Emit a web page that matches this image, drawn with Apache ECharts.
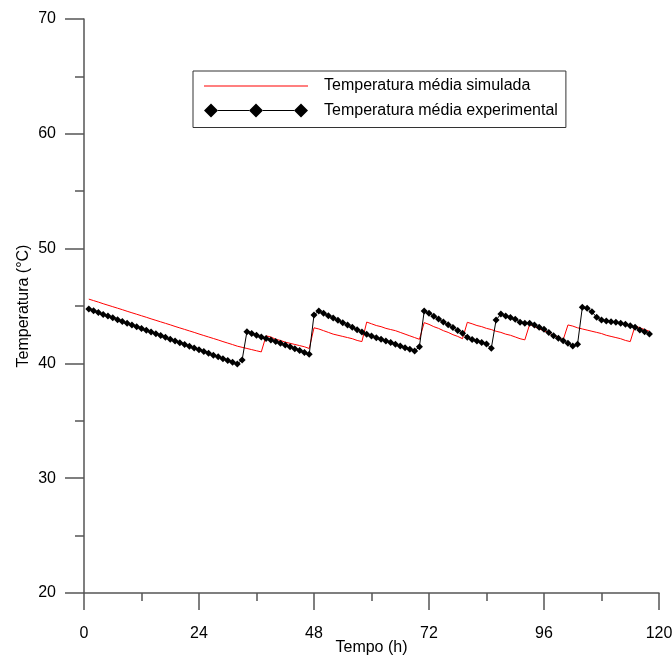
<!DOCTYPE html>
<html>
<head>
<meta charset="utf-8">
<script src="https://cdn.jsdelivr.net/npm/echarts@6/dist/echarts.min.js"></script>
<style>
html,body{margin:0;padding:0;background:#fff;overflow:hidden;}
#chart{width:672px;height:657px;}
</style>
</head>
<body>
<div id="chart"></div>
<script>
const hours = [1,2,3,4,5,6,7,8,9,10,11,12,13,14,15,16,17,18,19,20,21,22,23,24,25,26,27,28,29,30,
31,32,33,34,35,36,37,38,39,40,41,42,43,44,45,46,47,48,49,50,51,52,53,54,55,56,57,58,59,60,
61,62,63,64,65,66,67,68,69,70,71,72,73,74,75,76,77,78,79,80,81,82,83,84,85,86,87,88,89,90,
91,92,93,94,95,96,97,98,99,100,101,102,103,104,105,106,107,108,109,110,111,112,113,114,115,116,117,118];

const simulated = [
45.60,45.47,45.34,45.20,45.07,44.94,44.81,44.68,44.54,44.41,44.28,44.15,44.02,43.88,43.75,43.62,43.49,43.36,43.22,43.09,
42.96,42.83,42.70,42.56,42.43,42.30,42.17,42.04,41.90,41.77,41.64,41.50,41.40,41.30,41.20,41.10,41.00,
42.40,42.30,42.10,42.00,41.85,41.75,41.65,41.55,41.45,41.30,
43.10,43.00,42.85,42.70,42.55,42.45,42.35,42.25,42.15,42.00,41.90,
43.60,43.45,43.30,43.20,43.05,42.95,42.85,42.70,42.55,42.40,42.25,42.10,
43.55,43.40,43.20,43.05,42.85,42.70,42.50,42.35,42.15,
43.58,43.45,43.30,43.20,43.05,42.95,42.80,42.70,42.55,42.45,42.30,42.15,42.05,
43.40,43.20,43.00,42.85,42.65,42.45,42.25,42.05,
43.35,43.25,43.10,43.00,42.90,42.80,42.70,42.60,42.45,42.35,42.25,42.15,42.00,41.90,
43.26,43.10,42.95,42.80];

const experimental = [
44.74,44.58,44.43,44.27,44.12,43.97,43.81,43.66,43.50,43.35,43.19,43.04,42.89,42.73,42.58,42.42,42.27,42.11,41.96,41.80,
41.65,41.49,41.34,41.19,41.03,40.88,40.72,40.57,40.41,40.26,40.11,39.95,
40.30,42.76,42.60,42.46,42.31,42.17,42.04,41.90,41.75,41.60,41.44,41.28,41.12,40.96,40.79,
44.22,44.56,44.36,44.15,43.95,43.75,43.54,43.34,43.14,42.94,42.73,42.53,42.39,42.24,42.10,41.95,41.81,41.66,41.52,41.37,41.23,41.08,41.46,44.56,
44.36,44.10,43.86,43.61,43.36,43.12,42.87,42.62,42.27,42.08,41.95,41.83,41.69,41.31,
43.78,44.30,44.13,44.00,43.84,43.58,43.49,43.49,43.35,43.15,42.97,42.70,42.41,42.20,41.98,41.75,41.52,41.66,
44.89,44.80,44.50,44.01,43.78,43.69,43.63,43.58,43.49,43.40,43.28,43.14,42.91,42.76,42.56];

const xTicks = [0, 24, 48, 72, 96, 120];
const yTicks = [20, 30, 40, 50, 60, 70];
const seriesNames = ['Temperatura média simulada', 'Temperatura média experimental'];

const font = 'Liberation Sans, Arial, sans-serif';
const axisColor = '#555';

const chart = echarts.init(document.getElementById('chart'), null, {renderer: 'canvas'});
chart.setOption({
  backgroundColor: '#fff',
  animation: false,
  grid: {left: 84, right: 13, top: 19, bottom: 64, containLabel: false, outerBoundsMode: 'none'},
  legend: {
    orient: 'vertical',
    left: 193,
    top: 71,
    padding: [7, 8, 9, 11],
    itemGap: 8.5,
    itemWidth: 104,
    itemHeight: 14,
    borderColor: '#333',
    borderWidth: 1,
    textStyle: {fontSize: 16, color: '#000', fontFamily: font, padding: [0, 0, 0, 11]},
    data: [
      {name: seriesNames[0], icon: 'path://M0,0h104v1h-104z',
        itemStyle: {color: '#ff0000', borderColor: '#ff0000', borderWidth: 0, opacity: 1},
        lineStyle: {color: '#ff0000', width: 1}},
      {name: seriesNames[1], icon: 'path://M0,7L7,0L14,7L7,14Z M14,6.5h31v1h-31z M45,7L52,0L59,7L52,14Z M59,6.5h31v1h-31z M90,7L97,0L104,7L97,14Z',
        itemStyle: {color: '#000', borderColor: '#000', borderWidth: 0}}
    ]
  },
  xAxis: {
    type: 'value',
    min: 0, max: 120, interval: 24,
    name: 'Tempo (h)',
    nameLocation: 'middle',
    nameGap: 47,
    nameMoveOverlap: false,
    nameTextStyle: {fontSize: 16, color: '#000', fontFamily: font},
    axisLine: {show: true, onZero: false, lineStyle: {color: axisColor, width: 1.5}},
    axisTick: {show: true, length: 17, lineStyle: {color: axisColor, width: 1.5}},
    minorTick: {show: true, splitNumber: 2, length: 8, lineStyle: {color: axisColor, width: 1.5}},
    axisLabel: {fontSize: 16, color: '#000', fontFamily: font, margin: 33,
      formatter: v => xTicks.includes(v) ? String(v) : ''},
    splitLine: {show: false}
  },
  yAxis: {
    type: 'value',
    min: 20, max: 70, interval: 10,
    name: 'Temperatura (°C)',
    nameLocation: 'middle',
    nameGap: 52,
    nameMoveOverlap: false,
    nameRotate: 90,
    nameTextStyle: {fontSize: 16, color: '#000', fontFamily: font},
    axisLine: {show: true, onZero: false, lineStyle: {color: axisColor, width: 1.5}},
    axisTick: {show: true, length: 19, lineStyle: {color: axisColor, width: 1.5}},
    minorTick: {show: true, splitNumber: 2, length: 9, lineStyle: {color: axisColor, width: 1.5}},
    axisLabel: {fontSize: 16, color: '#000', fontFamily: font, margin: 28,
      formatter: v => yTicks.includes(v) ? String(v) : ''},
    splitLine: {show: false}
  },
  series: [
    {
      name: seriesNames[0],
      type: 'line',
      data: hours.map((h, i) => [h, simulated[i]]),
      showSymbol: false,
      symbol: 'none',
      itemStyle: {color: '#ff0000', borderColor: '#ff0000'},
      lineStyle: {color: '#ff0000', width: 1},
      z: 2
    },
    {
      name: seriesNames[1],
      type: 'line',
      data: hours.map((h, i) => [h, experimental[i]]),
      symbol: 'diamond',
      symbolSize: 7,
      itemStyle: {color: '#000'},
      lineStyle: {color: '#000', width: 1},
      z: 3
    }
  ]
});
</script>
</body>
</html>
